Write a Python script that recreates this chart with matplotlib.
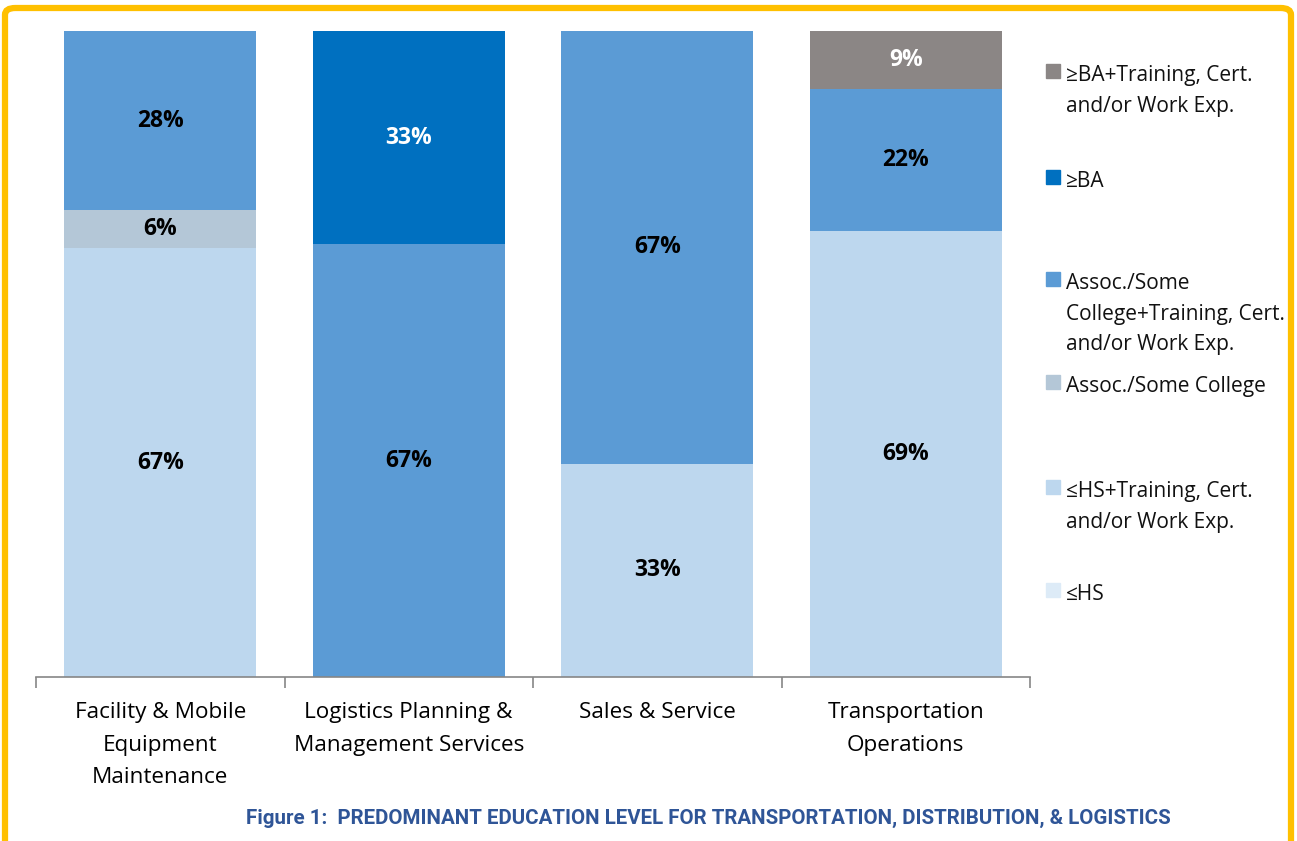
import numpy as np
import matplotlib.pyplot as plt
from matplotlib.patches import FancyBboxPatch, Rectangle

plt.rcParams['font.family'] = ['Open Sans', 'DejaVu Sans']

# Categories and series (percent shares, stacked bottom to top)
categories = ['Facility & Mobile\nEquipment\nMaintenance',
              'Logistics Planning &\nManagement Services',
              'Sales & Service',
              'Transportation\nOperations']
series_names = ['≤HS',
                '≤HS+Training, Cert.\nand/or Work Exp.',
                'Assoc./Some College',
                'Assoc./Some\nCollege+Training, Cert.\nand/or Work Exp.',
                '≥BA',
                '≥BA+Training, Cert.\nand/or Work Exp.']
hs = [0, 0, 0, 0]
hs_train = [67, 0, 33, 69]
assoc = [6, 0, 0, 0]
assoc_train = [28, 67, 67, 22]
ba = [0, 33, 0, 0]
ba_train = [0, 0, 0, 9]

colors = ['#DDEBF7', '#BDD7EE', '#B4C7D7', '#5B9BD5', '#0070C0', '#8B8685']
label_colors = ['black', 'black', 'black', 'black', 'white', 'white']

values = np.array([hs, hs_train, assoc, assoc_train, ba, ba_train], dtype=float)
shares = values / values.sum(axis=0) * 100  # 100% stacked

fig = plt.figure(figsize=(12.97, 8.41), dpi=100)
ax = fig.add_axes([36 / 1297, 164 / 841, 994 / 1297, 646 / 841])

x = np.arange(len(categories))
bottom = np.zeros(len(categories))
for i, name in enumerate(series_names):
    ax.bar(x, shares[i], bottom=bottom, width=0.774, color=colors[i],
           edgecolor='none')
    for j in range(len(categories)):
        if values[i, j] > 0:
            ax.text(x[j], bottom[j] + shares[i, j] / 2, f'{values[i, j]:.0f}%',
                    ha='center', va='center', fontsize=16.5, fontweight='bold',
                    color=label_colors[i])
    bottom += shares[i]

ax.set_xlim(-0.5, 3.5)
ax.set_ylim(0, 100)
ax.set_yticks([])
ax.set_xticks(x)
ax.set_xticklabels(categories, fontsize=16.2, linespacing=1.72)
ax.tick_params(axis='x', which='major', length=0, pad=18)
ax.set_xticks(np.arange(-0.5, 4, 1), minor=True)
ax.tick_params(axis='x', which='minor', length=8, color='#868686', width=1.2)
for s in ['top', 'right', 'left']:
    ax.spines[s].set_visible(False)
ax.spines['bottom'].set_color('#868686')
ax.spines['bottom'].set_linewidth(1.2)

# Legend drawn by hand (top entry first)
legend_y = [74, 180, 282, 385, 490, 593]
order = [5, 4, 3, 2, 1, 0]
for yy, i in zip(legend_y, order):
    fig.patches.append(Rectangle((1046 / 1297, 1 - (yy + 4) / 841),
                                 14 / 1297, 14 / 841, color=colors[i],
                                 transform=fig.transFigure))
    fig.text(1066 / 1297, 1 - (yy - 9) / 841, series_names[i], fontsize=15,
             va='top', ha='left', linespacing=1.6, color='#111111')

fig.text(708 / 1297, 1 - 818 / 841,
         'Figure 1:  PREDOMINANT EDUCATION LEVEL FOR TRANSPORTATION, DISTRIBUTION, & LOGISTICS',
         family=['Roboto', 'DejaVu Sans'], fontsize=14.8,
         fontweight='bold', color='#2F5597', ha='center', va='center')

# Yellow frame
frame = FancyBboxPatch((5 / 1297, -0.1), 1286 / 1297, 1.1 - 8 / 841,
                       boxstyle='round,pad=0,rounding_size=0.008',
                       transform=fig.transFigure, fill=False,
                       edgecolor='#FFC000', linewidth=4.5)
fig.patches.append(frame)

fig.savefig('out.png', dpi=100)
